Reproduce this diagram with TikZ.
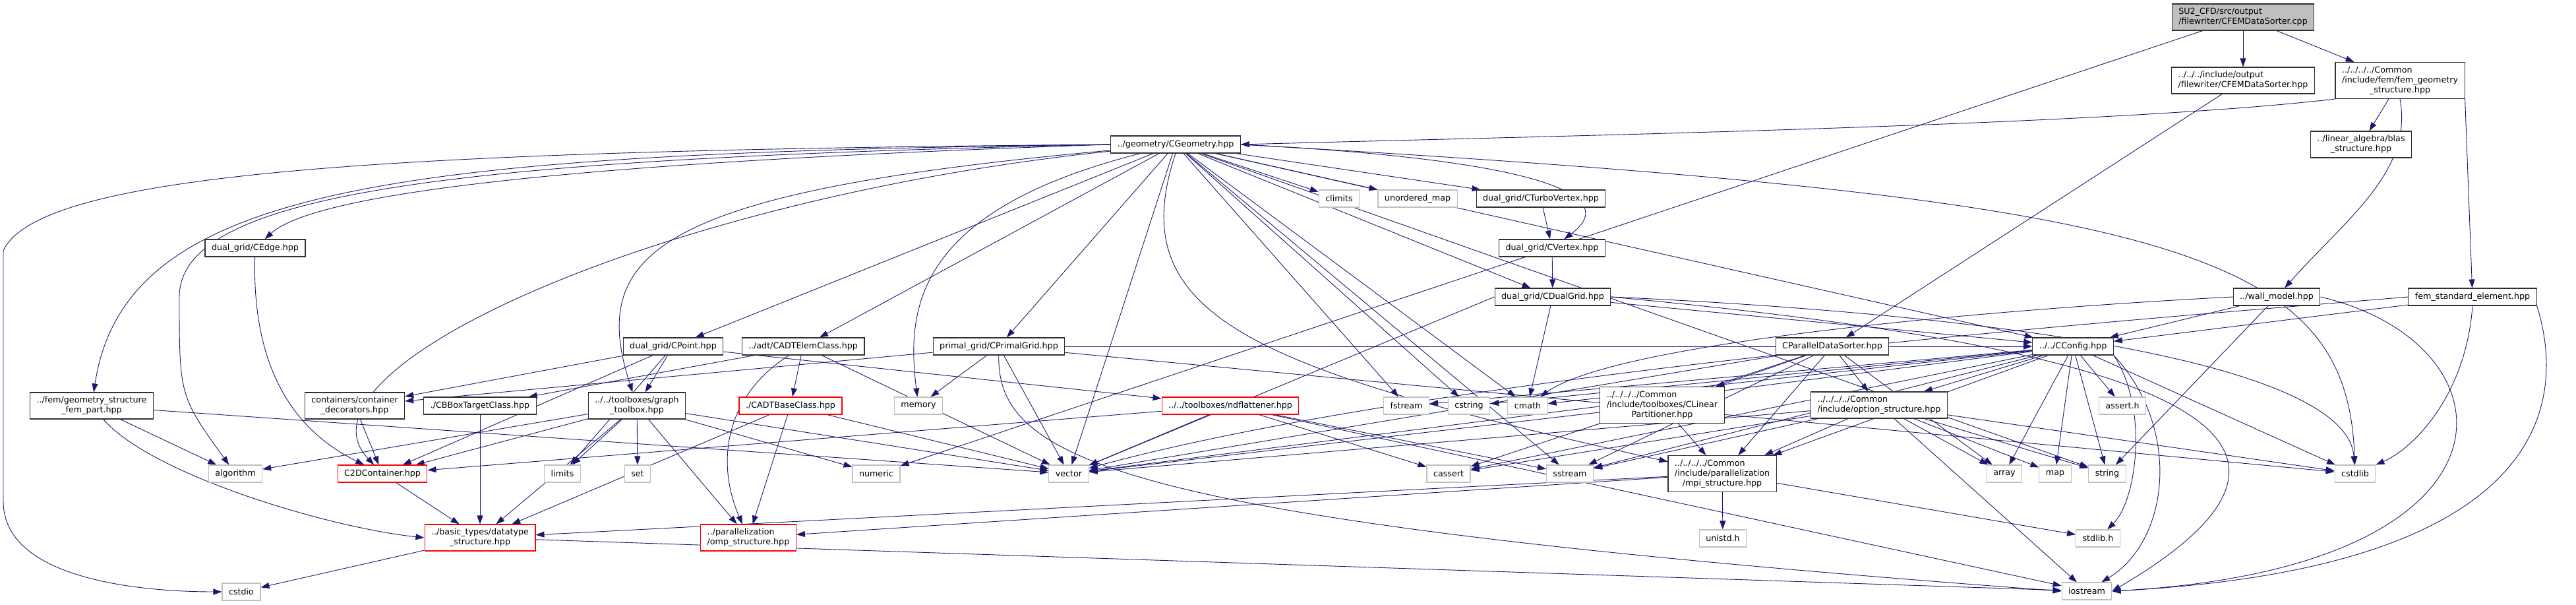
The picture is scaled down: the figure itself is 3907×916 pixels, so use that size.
\documentclass[tikz,border=0pt]{standalone}
\usepackage{fontspec}
\setmainfont{DejaVu Sans}
\usepackage{tikz}
\usetikzlibrary{arrows.meta}
\pgfdeclarelayer{back}
\pgfsetlayers{back,main}
\definecolor{Edge}{HTML}{191970}
\definecolor{Frame}{HTML}{303030}
\definecolor{Sys}{HTML}{BFBFBF}
\definecolor{Root}{HTML}{BFBFBF}
\definecolor{Lost}{HTML}{FF0000}
\newcommand{\labtwo}[2]{\begin{tabular}{@{}l@{}}#1\\\multicolumn{1}{@{}c@{}}{#2}\end{tabular}}
\newcommand{\labthree}[3]{\begin{tabular}{@{}l@{}}#1\\#2\\\multicolumn{1}{@{}c@{}}{#3}\end{tabular}}

\begin{document}
\begin{tikzpicture}[
  x=1pt,y=-1pt,
  font=\fontsize{12.7}{15}\selectfont,
  file/.style={
    draw=Frame,fill=white,line width=1.1pt,inner xsep=10pt,inner ysep=2pt,
    minimum height=26pt
  },
  sys/.style={file,draw=Sys},
  lost/.style={file,draw=Lost},
  root/.style={file,fill=Root},
  two/.style={minimum height=40pt},
  three/.style={minimum height=55pt},
  dep/.style={-{Triangle[length=13pt,width=9pt]},draw=Edge,line width=0.9pt}
]
  \useasboundingbox (0,0) rectangle (3907,916);

  % top rows
  \node[root,two] (cpp) at (3402,26) {\labtwo{SU2\_CFD/src/output}{/filewriter/CFEMDataSorter.cpp}};
  \node[file,two] (sorterh) at (3402,122) {\labtwo{../../../include/output}{/filewriter/CFEMDataSorter.hpp}};
  \node[file,three] (femgeo) at (3640,122) {\labthree{../../../../Common}{/include/fem/fem\_geometry}{\_structure.hpp}};
  \node[file,two] (blas) at (3581,219) {\labtwo{../linear\_algebra/blas}{\_structure.hpp}};
  \node[file] (geom) at (1783,219) {../geometry/CGeometry.hpp};
  \node[sys] (climits) at (2031,301) {climits};
  \node[sys] (umap) at (2150,301) {unordered\_map};
  \node[file] (turbo) at (2337,301) {dual\_grid/CTurboVertex.hpp};
  \node[file] (cedge) at (387,376) {dual\_grid/CEdge.hpp};
  \node[file] (cvertex) at (2354,376) {dual\_grid/CVertex.hpp};
  \node[file] (dualgrid) at (2355,450) {dual\_grid/CDualGrid.hpp};
  \node[file] (wall) at (3453,450) {../wall\_model.hpp};
  \node[file] (femstd) at (3750,450) {fem\_standard\_element.hpp};
  \node[file] (cpoint) at (1021,525) {dual\_grid/CPoint.hpp};
  \node[file] (adtelem) at (1218,525) {../adt/CADTElemClass.hpp};
  \node[file] (primal) at (1515,525) {primal\_grid/CPrimalGrid.hpp};
  \node[file] (pds) at (2779,525) {CParallelDataSorter.hpp};
  \node[file] (config) at (3144,525) {../../CConfig.hpp};

  % middle rows
  \node[file,two] (fempart) at (139,615) {\labtwo{../fem/geometry\_structure}{\_fem\_part.hpp}};
  \node[file,two] (decor) at (538,615) {\labtwo{containers/container}{\_decorators.hpp}};
  \node[file] (bbox) at (728,615) {./CBBoxTargetClass.hpp};
  \node[file,two] (graphtb) at (966,615) {\labtwo{../../toolboxes/graph}{\_toolbox.hpp}};
  \node[lost] (adtbase) at (1199,615) {./CADTBaseClass.hpp};
  \node[sys] (memory) at (1393,615) {memory};
  \node[lost] (ndflat) at (1866,615) {../../toolboxes/ndflattener.hpp};
  \node[sys] (fstream) at (2133,615) {fstream};
  \node[sys] (cstring) at (2228,615) {cstring};
  \node[sys] (cmath) at (2317,615) {cmath};
  \node[file,three] (clinear) at (2521,614) {\labthree{../../../../Common}{/include/toolboxes/CLinear}{Partitioner.hpp}};
  \node[file,two] (option) at (2850,614) {\labtwo{../../../../Common}{/include/option\_structure.hpp}};
  \node[sys] (asserth) at (3219,615) {assert.h};
  \node[sys] (algorithm) at (357,718) {algorithm};
  \node[lost] (c2d) at (580,718) {C2DContainer.hpp};
  \node[sys] (limits) at (853,718) {limits};
  \node[sys] (set) at (967,718) {set};
  \node[sys] (numeric) at (1329,718) {numeric};
  \node[sys] (vector) at (1621,718) {vector};
  \node[sys] (cassert) at (2197,718) {cassert};
  \node[sys] (sstream) at (2381,718) {sstream};
  \node[file,three] (mpi) at (2612,718) {\labthree{../../../../Common}{/include/parallelization}{/mpi\_structure.hpp}};
  \node[sys] (array) at (3040,718) {array};
  \node[sys] (map) at (3117,718) {map};
  \node[sys] (string) at (3196,718) {string};
  \node[sys] (cstdlib) at (3572,718) {cstdlib};

  % bottom rows
  \node[lost,two] (omp) at (1135,815) {\labtwo{../parallelization}{/omp\_structure.hpp}};
  \node[lost,two] (datatype) at (728,815) {\labtwo{../basic\_types/datatype}{\_structure.hpp}};
  \node[sys] (unistd) at (2613,816) {unistd.h};
  \node[sys] (stdlibh) at (3182,816) {stdlib.h};
  \node[sys] (cstdio) at (366,897) {cstdio};
  \node[sys] (iostream) at (3165,896) {iostream};

  \begin{pgfonlayer}{back}
  % source file and its headers
  \draw[dep] (cpp) -- (sorterh);
  \draw[dep] (cpp) -- (femgeo);
  \draw[dep] (cpp) -- (numeric);
  \draw[dep] (sorterh) -- (pds);
  \draw[dep] (femgeo.south west) .. controls (3200,190) and (2400,205) .. (geom.east);
  \draw[dep] (femgeo) -- (blas);
  \draw[dep] (femgeo.south) .. controls (3660,260) and (3560,330) .. (wall);
  \draw[dep] (femgeo.south east) -- (femstd);
  \draw[dep] (femstd) -- (config);
  \draw[dep] (femstd.west) .. controls (3300,480) and (2200,560) .. (vector);
  \draw[dep] (femstd.south) .. controls (3740,600) and (3660,680) .. (cstdlib);
  \draw[dep] (femstd.south east) .. controls (3890,600) and (3880,860) .. (iostream.east);
  \draw[dep] (wall) -- (config);
  \draw[dep] (wall.west) .. controls (3000,470) and (2450,520) .. (cmath);
  \draw[dep] (wall) -- (string);
  \draw[dep] (wall.east) .. controls (3820,520) and (3850,860) .. (iostream.east);

  % geometry
  \draw[dep] (geom.west) .. controls (600,228) and (60,260) .. (5,380) -- (5,760) .. controls (5,880) and (220,897) .. (cstdio.west);
  \draw[dep] (geom.west) .. controls (600,232) and (190,280) .. (fempart);
  \draw[dep] (geom.west) .. controls (700,240) and (272,290) .. (272,450) .. controls (272,600) .. (algorithm);
  \draw[dep] (geom.west) .. controls (900,245) and (480,290) .. (cedge);
  \draw[dep] (geom) .. controls (1000,300) and (430,560) .. (c2d);
  \draw[dep] (geom) .. controls (1000,290) and (890,380) .. (graphtb);
  \draw[dep] (geom) -- (cpoint);
  \draw[dep] (geom) -- (adtelem);
  \draw[dep] (geom) .. controls (1385,320) and (1375,470) .. (memory);
  \draw[dep] (geom) -- (primal);
  \draw[dep] (geom) -- (climits);
  \draw[dep] (geom) -- (umap);
  \draw[dep] (geom) -- (turbo);
  \draw[dep] (geom.east) .. controls (2300,240) and (2470,290) .. (cvertex);
  \draw[dep] (geom) -- (dualgrid);
  \draw[dep] (geom) -- (config);
  \draw[dep] (geom) -- (fstream);
  \draw[dep] (geom) -- (cstring);
  \draw[dep] (geom) -- (cmath);
  \draw[dep] (geom.south) .. controls (1700,480) and (1900,560) .. (mpi);
  \draw[dep] (geom) -- (sstream);
  \draw[dep] (geom) -- (vector);
  \draw[dep] (geom) -- (string);
  \draw[dep] (geom.east) .. controls (3300,300) and (3560,380) .. (cstdlib);

  % dual grid
  \draw[dep] (turbo) -- (cvertex);
  \draw[dep] (cvertex) -- (dualgrid);
  \draw[dep] (dualgrid) -- (cmath);
  \draw[dep] (dualgrid.west) -- (vector);
  \draw[dep] (dualgrid) -- (config);
  \draw[dep] (dualgrid.east) .. controls (3100,480) and (3560,560) .. (cstdlib);
  \draw[dep] (dualgrid.east) .. controls (3200,520) and (3640,640) .. (iostream.east);
  \draw[dep] (cedge) .. controls (383,520) and (420,640) .. (c2d);
  \draw[dep] (cpoint) -- (decor);
  \draw[dep] (cpoint) -- (c2d);
  \draw[dep] (cpoint) -- (limits);
  \draw[dep] (cpoint) -- (graphtb);
  \draw[dep] (cpoint) -- (ndflat);

  % adt and primal grid
  \draw[dep] (adtelem) -- (adtbase);
  \draw[dep] (adtelem) -- (bbox);
  \draw[dep] (adtelem) -- (vector);
  \draw[dep] (adtelem) .. controls (1100,600) and (1085,700) .. (omp);
  \draw[dep] (primal) -- (decor);
  \draw[dep] (primal) -- (memory);
  \draw[dep] (primal) -- (vector);
  \draw[dep] (primal) .. controls (1512,700) and (1700,790) .. (iostream.west);
  \draw[dep] (primal) -- (cstdlib);
  \draw[dep] (primal) -- (config);

  % sorter and config
  \draw[dep] (pds) -- (clinear);
  \draw[dep] (pds) -- (option);
  \draw[dep] (pds) -- (mpi);
  \draw[dep] (pds) -- (vector);
  \draw[dep] (pds) -- (sstream);
  \draw[dep] (pds) -- (array);
  \draw[dep] (pds) -- (cassert);
  \draw[dep] (config) -- (fstream);
  \draw[dep] (config) -- (cstring);
  \draw[dep] (config) -- (cmath);
  \draw[dep] (config) -- (cassert);
  \draw[dep] (config) -- (sstream);
  \draw[dep] (config) -- (mpi);
  \draw[dep] (config) -- (option);
  \draw[dep] (config) -- (asserth);
  \draw[dep] (config) -- (array);
  \draw[dep] (config) -- (map);
  \draw[dep] (config) -- (string);
  \draw[dep] (config) -- (cstdlib);
  \draw[dep] (config.south east) .. controls (3260,620) and (3240,760) .. (stdlibh);
  \draw[dep] (config.south east) .. controls (3310,650) and (3290,820) .. (iostream);
  \draw[dep] (config) -- (vector);
  \draw[dep] (clinear) -- (mpi);
  \draw[dep] (clinear) -- (vector);
  \draw[dep] (option) -- (mpi);
  \draw[dep] (option) -- (sstream);
  \draw[dep] (option) -- (vector);
  \draw[dep] (option) -- (map);
  \draw[dep] (option) -- (string);
  \draw[dep] (option) -- (array);
  \draw[dep] (option) -- (iostream);
  \draw[dep] (option) -- (cstdlib);
  \draw[dep] (option) -- (cassert);
  \draw[dep] (mpi) -- (omp);
  \draw[dep] (mpi) -- (datatype);
  \draw[dep] (mpi) -- (unistd);
  \draw[dep] (mpi) -- (stdlibh);

  % toolboxes and containers
  \draw[dep] (graphtb) -- (algorithm);
  \draw[dep] (graphtb) -- (c2d);
  \draw[dep] (graphtb) -- (limits);
  \draw[dep] (graphtb) -- (set);
  \draw[dep] (graphtb) -- (numeric);
  \draw[dep] (graphtb) -- (vector);
  \draw[dep] (graphtb) -- (omp);
  \draw[dep] (graphtb) -- (datatype);
  \draw[dep] (decor) -- (c2d);
  \draw[dep] (bbox) -- (datatype);
  \draw[dep] (c2d) -- (datatype);
  \draw[dep] (fempart) -- (algorithm);
  \draw[dep] (fempart) .. controls (230,720) and (500,800) .. (datatype.west);
  \draw[dep] (fempart) -- (vector);
  \draw[dep] (adtbase) -- (omp);
  \draw[dep] (adtbase) -- (datatype);
  \draw[dep] (adtbase) -- (vector);
  \draw[dep] (ndflat) -- (vector);
  \draw[dep] (ndflat) -- (c2d);
  \draw[dep] (ndflat) -- (cassert);
  \draw[dep] (ndflat) -- (sstream);
  \draw[dep] (ndflat) -- (iostream);
  \draw[dep] (datatype) -- (cstdio);
  \draw[dep] (datatype) -- (iostream);
  \end{pgfonlayer}
\end{tikzpicture}
\end{document}
